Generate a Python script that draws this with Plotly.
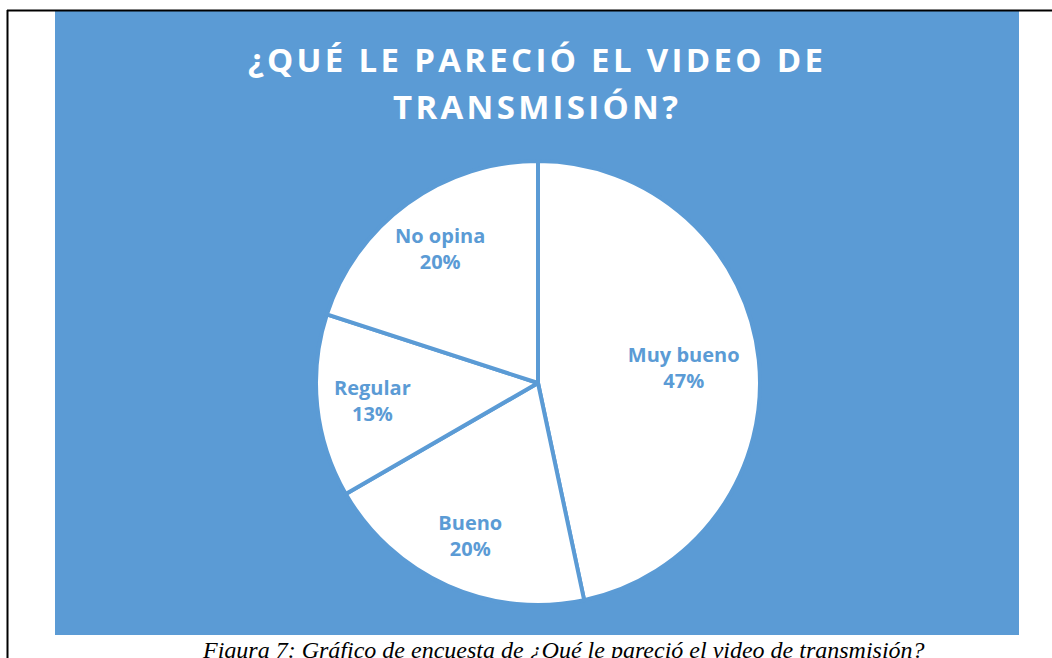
import plotly.graph_objects as go

# respuestas de la encuesta (15 personas)
categorias = ["Muy bueno", "Bueno", "Regular", "No opina"]
respuestas = [7, 3, 2, 3]

titulo_lineas = ["¿QUÉ LE PARECIÓ EL VIDEO DE", "TRANSMISIÓN?"]
pie_de_figura = "Figura 7: Gráfico de encuesta de ¿Qué le pareció el video de transmisión?"

azul = "#5B9BD5"
W, H = 1052, 658

# centro y radio del pastel en px
cx, cy, r = 538, 383, 222
dominio = dict(x=[(cx - r) / W, (cx + r) / W], y=[1 - (cy + r) / H, 1 - (cy - r) / H])

etiqueta = "<b>%{label}</b><br><b>%{percent:.0%}</b>"


def espaciado(txt):
    # un poco de aire entre letras, como en el original
    return "\u200a".join(txt)


fig = go.Figure()
# rebanadas blancas con borde azul
fig.add_trace(go.Pie(
    labels=categorias, values=respuestas, sort=False,
    direction="clockwise", rotation=0,
    marker=dict(colors=["white"] * 4, line=dict(color=azul, width=4)),
    textinfo="none", hoverinfo="label+percent",
    showlegend=False, domain=dominio,
))
# capas de etiquetas (anillos transparentes para llevar el texto hacia afuera)
for hueco, plantillas in [
    (0.5, ["", etiqueta, etiqueta, etiqueta]),
    (0.32, [etiqueta, "", "", ""]),
]:
    fig.add_trace(go.Pie(
        labels=categorias, values=respuestas, sort=False,
        direction="clockwise", rotation=0, hole=hueco,
        marker=dict(colors=["rgba(0,0,0,0)"] * 4, line=dict(width=0)),
        texttemplate=plantillas,
        textposition="inside",
        insidetextorientation="horizontal",
        textfont=dict(family="Open Sans, Lato, sans-serif", size=20, color=azul),
        hoverinfo="skip",
        showlegend=False, domain=dominio,
    ))

shapes = [
    # fondo azul del gráfico
    dict(type="rect", xref="paper", yref="paper", layer="below",
         x0=55 / W, x1=1019 / W, y0=1 - 635 / H, y1=1 - 11 / H,
         fillcolor=azul, line=dict(width=0)),
    # bordes de la tabla
    dict(type="line", xref="paper", yref="paper",
         x0=7 / W, x1=1, y0=1 - 10.5 / H, y1=1 - 10.5 / H,
         line=dict(color="black", width=2)),
    dict(type="line", xref="paper", yref="paper",
         x0=7.5 / W, x1=7.5 / W, y0=0, y1=1 - 10 / H,
         line=dict(color="black", width=2)),
]

titulos = [
    dict(
        text="<b>" + espaciado(linea) + "</b>",
        xref="paper", yref="paper",
        x=535 / W, xanchor="center",
        y=1 - yc / H, yanchor="middle",
        showarrow=False,
        font=dict(family="Open Sans, Lato, sans-serif", size=33, color="white"),
    )
    for linea, yc in zip(titulo_lineas, [59, 106])
]

fig.update_layout(
    width=W, height=H,
    margin=dict(l=0, r=0, t=0, b=0),
    paper_bgcolor="white",
    plot_bgcolor="white",
    shapes=shapes,
    annotations=titulos + [
        dict(
            text=pie_de_figura,
            xref="paper", yref="paper",
            x=563 / W, xanchor="center",
            y=1 - 635 / H, yanchor="top",
            showarrow=False,
            font=dict(family="Liberation Serif, Times New Roman, serif", size=24,
                      color="black", style="italic"),
        ),
    ],
)

fig.write_html("out.html", config={"displayModeBar": False},
               post_script="document.body.style.margin='0';")
